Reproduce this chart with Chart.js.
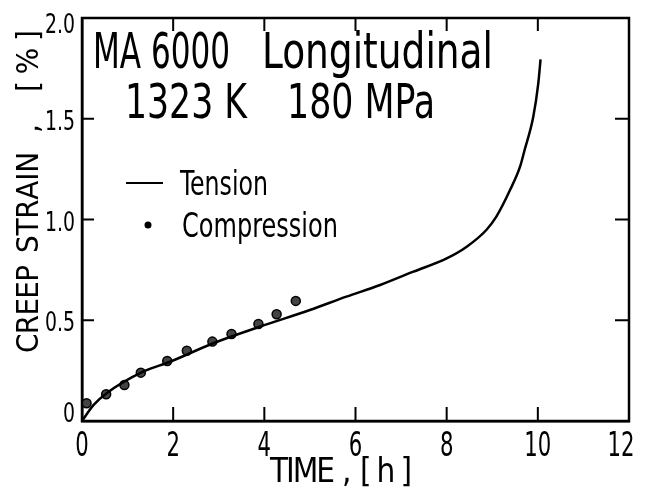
<!DOCTYPE html>
<html lang="en">
<head>
    <meta charset="UTF-8">
    <title>MA 6000 Creep Strain</title>
    <script src="https://cdn.jsdelivr.net/npm/chart.js"></script>
    <style>
        body {
            margin: 0;
            background: #fff;
        }
        canvas {
            display: block;
        }
    </style>
</head>
<body>
    <canvas id="creepChart" width="645" height="491"></canvas>

    <script>
        // tension curve
        const tensionTime = [0, 0.25, 0.54, 1.34, 1.93, 2.88, 3.90, 5.00, 5.80, 6.54, 7.27, 8.00, 8.44, 8.87, 9.09, 9.39, 9.61, 9.71, 9.90, 10.01, 10.06];
        const tensionStrain = [0, 0.079, 0.138, 0.245, 0.294, 0.386, 0.468, 0.551, 0.617, 0.675, 0.741, 0.807, 0.865, 0.948, 1.014, 1.146, 1.262, 1.345, 1.51, 1.676, 1.795];

        // compression points
        const compTime = [0.10, 0.53, 0.93, 1.29, 1.87, 2.30, 2.86, 3.28, 3.87, 4.27, 4.69];
        const compStrain = [0.088, 0.133, 0.179, 0.240, 0.298, 0.349, 0.394, 0.432, 0.481, 0.530, 0.596];

        const xMin = 0, xMax = 12, xStep = 2;
        const yMin = 0, yMax = 2, yStep = 0.5;

        const FONT = "'Liberation Sans Narrow', 'DejaVu Sans Condensed', sans-serif";

        function toPoints(xs, ys) {
            return xs.map((x, i) => ({ x, y: ys[i] }));
        }

        function yLabel(v) {
            return v === 0 ? '0' : v.toFixed(1);
        }

        // spread characters over a given width
        function spacedText(ctx, str, x, y, width) {
            const chars = [...str];
            const widths = chars.map(c => ctx.measureText(c).width);
            const natural = widths.reduce((a, b) => a + b, 0);
            const gap = chars.length > 1 ? (width - natural) / (chars.length - 1) : 0;
            let cx = x;
            chars.forEach((c, i) => {
                ctx.fillText(c, cx, y);
                cx += widths[i] + gap;
            });
        }

        // squeeze/stretch a string to a given width
        function fitText(ctx, str, x, y, width) {
            const w = ctx.measureText(str).width;
            ctx.save();
            ctx.translate(x, y);
            ctx.scale(width / w, 1);
            ctx.fillText(str, 0, 0);
            ctx.restore();
        }

        // narrow digits, like the lettering stencil of the original
        function narrowText(ctx, str, x, y, digitWidth, align) {
            const k = digitWidth / ctx.measureText('0').width;
            const w = ctx.measureText(str).width * k;
            let left = x;
            if (align === 'center') left = x - w / 2;
            if (align === 'right') left = x - w;
            ctx.save();
            ctx.translate(left, y);
            ctx.scale(k, 1);
            ctx.fillText(str, 0, 0);
            ctx.restore();
        }

        const framePlugin = {
            id: 'frame',
            afterDraw(chart) {
                const ctx = chart.ctx;
                const ca = chart.chartArea;
                const xs = chart.scales.x;
                const ys = chart.scales.y;

                ctx.save();
                ctx.strokeStyle = '#000';
                ctx.lineWidth = 2.5;
                ctx.strokeRect(ca.left, ca.top, ca.right - ca.left, ca.bottom - ca.top);

                // inward tick marks on all four sides
                ctx.lineWidth = 2;
                ctx.beginPath();
                xs.ticks.forEach(t => {
                    if (t.value <= xMin || t.value >= xMax) return;
                    const px = xs.getPixelForValue(t.value);
                    ctx.moveTo(px, ca.bottom); ctx.lineTo(px, ca.bottom - 14);
                    ctx.moveTo(px, ca.top); ctx.lineTo(px, ca.top + 13);
                });
                ys.ticks.forEach(t => {
                    if (t.value <= yMin || t.value >= yMax) return;
                    const py = ys.getPixelForValue(t.value);
                    ctx.moveTo(ca.left, py); ctx.lineTo(ca.left + 12, py);
                    ctx.moveTo(ca.right, py); ctx.lineTo(ca.right - 14, py);
                });
                ctx.stroke();

                ctx.fillStyle = '#000';
                ctx.textBaseline = 'alphabetic';
                ctx.textAlign = 'left';

                // tick labels
                ctx.font = '33px ' + FONT;
                xs.ticks.forEach(t => {
                    let px = xs.getPixelForValue(t.value);
                    if (t.value === xMax) px -= 8;
                    narrowText(ctx, String(t.value), px, ca.bottom + 35, 13.5, 'center');
                });
                ctx.font = '27px ' + FONT;
                ys.ticks.forEach(t => {
                    let py = ys.getPixelForValue(t.value) + 11;
                    if (t.value === yMax) py += 4;
                    if (t.value === yMin) py -= 10;
                    narrowText(ctx, yLabel(t.value), ca.left - 7, py, 12, 'right');
                });

                // heading inside the plot
                ctx.font = '49px ' + FONT;
                fitText(ctx, 'MA 6000', 93, 68, 137);
                fitText(ctx, 'Longitudinal', 262, 68, 231);
                ctx.font = '48px ' + FONT;
                fitText(ctx, '1323 K', 125, 118, 122);
                fitText(ctx, '180 MPa', 287, 118, 148);

                // legend
                ctx.beginPath();
                ctx.lineWidth = 2;
                ctx.moveTo(126, 183); ctx.lineTo(163, 183);
                ctx.stroke();
                ctx.beginPath();
                ctx.arc(148, 225, 3.5, 0, Math.PI * 2);
                ctx.fill();
                ctx.font = '34px ' + FONT;
                fitText(ctx, 'Tension', 180, 195, 88);
                fitText(ctx, 'Compression', 182, 237, 156);

                // x axis title
                ctx.font = '33px ' + FONT;
                spacedText(ctx, 'TIME', 270, 482, 65);
                spacedText(ctx, ',', 342, 482, 6);
                spacedText(ctx, '[h]', 360, 482, 52);

                // y axis title
                ctx.translate(38, 353);
                ctx.rotate(-Math.PI / 2);
                ctx.font = '31px ' + FONT;
                spacedText(ctx, 'CREEP', 0, 0, 88);
                spacedText(ctx, 'STRAIN', 100, 0, 101);
                spacedText(ctx, ',', 220, 0, 6);
                spacedText(ctx, '[%]', 261, 0, 62);
                ctx.restore();
            }
        };

        const ctx = document.getElementById('creepChart').getContext('2d');
        new Chart(ctx, {
            type: 'scatter',
            data: {
                datasets: [
                    {
                        label: 'Tension',
                        data: toPoints(tensionTime, tensionStrain),
                        showLine: true,
                        borderColor: '#000',
                        borderWidth: 2.5,
                        pointRadius: 0,
                        cubicInterpolationMode: 'monotone'
                    },
                    {
                        label: 'Compression',
                        data: toPoints(compTime, compStrain),
                        showLine: false,
                        pointRadius: 4.5,
                        backgroundColor: '#444',
                        borderColor: '#000',
                        borderWidth: 1.5
                    }
                ]
            },
            options: {
                responsive: false,
                animation: false,
                devicePixelRatio: 1,
                layout: { padding: { top: 18, right: 16, left: 0, bottom: 0 } },
                plugins: {
                    legend: { display: false },
                    tooltip: { enabled: false }
                },
                scales: {
                    x: {
                        type: 'linear',
                        min: xMin,
                        max: xMax,
                        afterFit(scale) { scale.height = 70; },
                        grid: { display: false, drawTicks: false },
                        border: { display: true, color: '#000', width: 2.5 },
                        ticks: { stepSize: xStep, display: false }
                    },
                    y: {
                        min: yMin,
                        max: yMax,
                        afterFit(scale) { scale.width = 82; },
                        grid: { display: false, drawTicks: false },
                        border: { display: true, color: '#000', width: 2.5 },
                        ticks: { stepSize: yStep, display: false, callback: yLabel }
                    }
                }
            },
            plugins: [framePlugin]
        });
    </script>
</body>
</html>
